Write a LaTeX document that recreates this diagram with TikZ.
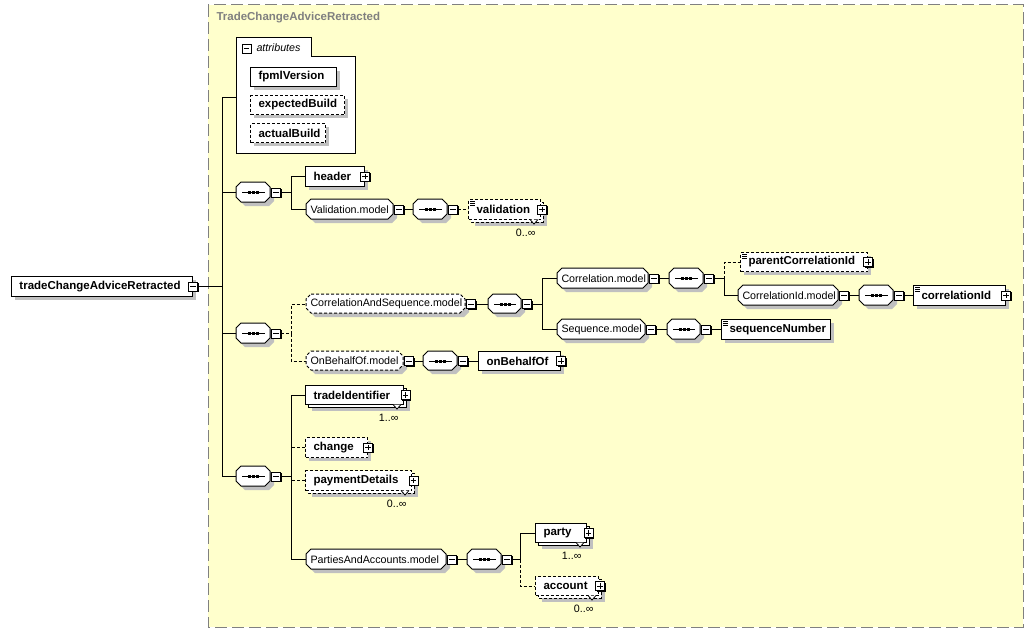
\documentclass[tikz,border=0pt]{standalone}
\usepackage{fontspec}
\setmainfont{Liberation Sans}
\usetikzlibrary{shadows}
\definecolor{bgy}{RGB}{255,255,204}
\definecolor{shc}{RGB}{192,192,192}
\definecolor{frg}{RGB}{128,128,128}
\tikzset{
  ebox/.style={draw, fill=white, inner sep=0pt, font=\fontsize{11.5}{13}\selectfont\bfseries, align=left},
  mtext/.style={inner sep=0pt, font=\fontsize{10.7}{12}\selectfont, align=left},
  opt/.style={dash pattern=on 3pt off 2pt},
  icon/.style={draw, solid, fill=white, minimum size=9pt, inner sep=0pt, line width=1pt,
    drop shadow={shadow xshift=1pt, shadow yshift=-1pt, fill=black, opacity=1}},
  minusic/.style={icon, path picture={\draw[line width=1pt,solid] ([xshift=1.8pt]path picture bounding box.west) -- ([xshift=-1.8pt]path picture bounding box.east);}},
  plusic/.style={icon, path picture={\draw[line width=1pt,solid] ([xshift=1.8pt]path picture bounding box.west) -- ([xshift=-1.8pt]path picture bounding box.east);
      \draw[line width=1pt,solid] ([yshift=-1.8pt]path picture bounding box.north) -- ([yshift=1.8pt]path picture bounding box.south);}},
  card/.style={inner sep=0pt, font=\fontsize{10.7}{12}\selectfont},
}
% octagon path
\newcommand\octfill[5]{\filldraw[#5] ({#1+5},#2) -- ({#3-5},#2) -- (#3,{#2+5}) -- (#3,{#4-5}) -- ({#3-5},#4) -- ({#1+5},#4) -- (#1,{#4-5}) -- (#1,{#2+5}) -- cycle;}
% element box: [style] name x1 y1 x2 y2 text
\newcommand\elem[7][]{%
  \fill[shc] ({#3+4},{#4+4}) rectangle ({#5+4},{#6+4});
  \pgfmathsetmacro\elW{#5-#3}\pgfmathsetmacro\elH{#6-#4}%
  \node[ebox,#1,minimum width=\elW pt,minimum height=\elH pt,text width=\elW pt,anchor=north west] (#2) at (#3,#4) {\hspace*{8pt}\mbox{#7}};
}
% multiple element box: [style] name x1 y1 x2 y2 text card
\newcommand\melem[8][]{%
  \fill[shc] ({#3+7},{#4+7}) rectangle ({#5+7},{#6+7});
  \filldraw[fill=white,#1] ({#3+3},{#4+3}) rectangle ({#5+3},{#6+3});
  \pgfmathsetmacro\elW{#5-#3}\pgfmathsetmacro\elH{#6-#4}%
  \node[ebox,#1,minimum width=\elW pt,minimum height=\elH pt,text width=\elW pt,anchor=north west] (#2) at (#3,#4) {\hspace*{8pt}\mbox{#7}};
  \filldraw[fill=white,solid,line width=0.8pt] ({#5-10},{#6+0.5}) -- ({#5-6},{#6+5}) -- ({#5-2},{#6+0.5});
  \node[card,anchor=east] (#2c) at ({#5-4},{#6+14}) {#8};
}
% model group: [style] name x1 y1 x2 y2 text
\newcommand\modl[7][]{%
  \octfill{#3+4}{#4+4}{#5+4}{#6+4}{fill=shc,draw=none}
  \octfill{#3}{#4}{#5}{#6}{fill=white,draw=black,#1}
  \pgfmathsetmacro\elW{#5-#3}\pgfmathsetmacro\elH{#6-#4}%
  \node[mtext,minimum width=\elW pt,minimum height=\elH pt,text width=\elW pt,anchor=north west] (#2) at (#3,#4) {\hspace*{4pt}\mbox{#7}};
  \node[minusic] (#2i) at ([xshift=5pt]#2.east) {};
}
% sequence compositor: name x1 y1 x2 y2
\newcommand\seqc[5]{%
  \octfill{#2+4}{#3+4}{#4+4}{#5+4}{fill=shc,draw=none}
  \octfill{#2}{#3}{#4}{#5}{fill=white,draw=black}
  \pgfmathsetmacro\elW{#4-#2}\pgfmathsetmacro\elH{#5-#3}%
  \node[inner sep=0pt,minimum width=\elW pt,minimum height=\elH pt,anchor=north west] (#1) at (#2,#3) {};
  \draw ([xshift=6pt]#1.west) -- ([xshift=-6pt]#1.east);
  \fill ([xshift=-5.5pt,yshift=-1.5pt]#1.center) rectangle ([xshift=-2.5pt,yshift=1.5pt]#1.center);
  \fill ([xshift=-1.5pt,yshift=-1.5pt]#1.center) rectangle ([xshift=1.5pt,yshift=1.5pt]#1.center);
  \fill ([xshift=2.5pt,yshift=-1.5pt]#1.center) rectangle ([xshift=5.5pt,yshift=1.5pt]#1.center);
  \node[minusic] (#1i) at ([xshift=5pt]#1.east) {};
}
\newcommand\docmark[1]{%
  \foreach \dy in {2.5,4.5,6.5} {\draw[line width=0.8pt] ([xshift=2pt,yshift=-\dy pt]#1.north west) -- ++(5,0);}
}
\begin{document}
\begin{tikzpicture}[x=1pt,y=-1pt,line width=1pt]
\useasboundingbox (0,0) rectangle (1033,634);
\fill[white] (0,0) rectangle (1033,634);
% outer frame
\draw[frg, fill=bgy, dash pattern=on 12pt off 5pt] (208,5) rectangle (1023,627);
\node[anchor=west, inner sep=0pt, text=frg, font=\fontsize{11.5}{13}\selectfont\bfseries] (title) at (216,18) {TradeChangeAdviceRetracted};

% root
\elem{root}{11}{276}{192}{296}{tradeChangeAdviceRetracted}
\node[minusic] (rooti) at (root.east) {};

% attributes
\filldraw[fill=white] (236,38) -- (311,38) -- (311,57) -- (355,57) -- (355,153) -- (236,153) -- cycle;
\node[inner sep=0pt, minimum width=119pt, minimum height=96pt, anchor=north west] (attr) at (236,57) {};
\node[minusic] (attri) at (246.5,49) {};
\node[anchor=west, inner sep=0pt, font=\fontsize{10.7}{12}\selectfont\itshape] (attrlbl) at (256,48) {attributes};
\elem{fpml}{250}{67}{336}{86}{fpmlVersion}
\elem[opt]{expb}{250}{95}{344}{114}{expectedBuild}
\elem[opt]{actb}{250}{123}{325}{142}{actualBuild}

% first sequence
\seqc{s1}{236}{182}{270}{202}
\elem{header}{305}{166}{364}{186}{header}
\node[plusic] (headeri) at (header.east) {};
\modl{valm}{306}{199}{393}{219}{Validation.model}
\seqc{s1b}{413}{199}{447}{219}
\melem[opt]{valid}{468}{199}{540}{219}{validation}{0..∞}
\docmark{valid}
\node[plusic] (validi) at ([xshift=1pt]valid.east) {};

% second sequence
\seqc{s2}{236}{323}{270}{343}
\modl[opt]{casm}{306}{294}{465}{313}{CorrelationAndSequence.model}
\seqc{s2b}{488}{294}{521}{313}
\modl{corrm}{557}{268}{648}{288}{Correlation.model}
\seqc{s2c}{669}{268}{703}{288}
\elem[opt]{parent}{740}{252}{867}{271}{parentCorrelationId}
\docmark{parent}
\node[plusic] (parenti) at (parent.east) {};
\modl{corridm}{738}{285}{838}{305}{CorrelationId.model}
\seqc{s2d}{859}{285}{893}{305}
\elem{corrid}{913}{285}{1005}{305}{correlationId}
\docmark{corrid}
\node[plusic] (corridi) at (corrid.east) {};
\modl{seqm}{557}{319}{645}{339}{Sequence.model}
\seqc{s2e}{667}{319}{700}{339}
\elem{seqnum}{721}{319}{830}{339}{sequenceNumber}
\docmark{seqnum}
\modl[opt]{obom}{306}{351}{403}{370}{OnBehalfOf.model}
\seqc{s2f}{423}{351}{457}{370}
\elem{obo}{478}{351}{560}{370}{onBehalfOf}
\node[plusic] (oboi) at (obo.east) {};

% third sequence
\seqc{s3}{236}{466}{270}{486}
\melem{tid}{305}{385}{403}{404}{tradeIdentifier}{1..∞}
\node[plusic] (tidi) at ([xshift=1.5pt]tid.east) {};
\elem[opt]{change}{305}{437}{367}{457}{change}
\node[plusic] (changei) at (change.east) {};
\melem[opt]{payd}{305}{470}{411}{490}{paymentDetails}{0..∞}
\node[plusic] (paydi) at ([xshift=1.5pt]payd.east) {};
\modl{pam}{306}{549}{446}{569}{PartiesAndAccounts.model}
\seqc{s3b}{467}{549}{501}{569}
\melem{party}{535}{523}{586}{542}{party}{1..∞}
\node[plusic] (partyi) at ([xshift=1.5pt]party.east) {};
\melem[opt]{acct}{535}{576}{598}{595}{account}{0..∞}
\node[plusic] (accti) at ([xshift=1pt]acct.east) {};

% ---- connectors ----
\path (rooti.east) ++(24,0) coordinate (trunk);
\draw (rooti.east) -- (trunk);
\draw (trunk) |- ([yshift=8pt]attr.west);
\draw (trunk) |- (s1.west);
\draw (trunk) |- (s2.west);
\draw (trunk) |- (s3.west);

\path (s1i.east) ++(10,0) coordinate (s1j);
\draw (s1i.east) -- (s1j);
\draw (s1j) |- (header.west);
\draw (s1j) |- (valm.west);
\draw (valmi.east) -- (s1b.west);
\draw[opt] (s1bi.east) -- (valid.west);

\path (s2i.east) ++(10,0) coordinate (s2j);
\draw[opt] (s2i.east) -- (s2j);
\draw[opt] (s2j) |- (casm.west);
\draw[opt] (s2j) |- (obom.west);
\draw (casmi.east) -- (s2b.west);
\path (s2bi.east) ++(10,0) coordinate (s2bj);
\draw (s2bi.east) -- (s2bj);
\draw (s2bj) |- (corrm.west);
\draw (s2bj) |- (seqm.west);
\draw (corrmi.east) -- (s2c.west);
\path (s2ci.east) ++(10,0) coordinate (s2cj);
\draw (s2ci.east) -- (s2cj);
\draw[opt] (s2cj) |- (parent.west);
\draw (s2cj) |- (corridm.west);
\draw (corridmi.east) -- (s2d.west);
\draw (s2di.east) -- (corrid.west);
\draw (seqmi.east) -- (s2e.west);
\draw (s2ei.east) -- (seqnum.west);
\draw (obomi.east) -- (s2f.west);
\draw (s2fi.east) -- (obo.west);

\path (s3i.east) ++(10,0) coordinate (s3j);
\draw (s3i.east) -- (s3j);
\draw[opt] (s3j) |- (change.west);
\draw[opt] (s3j) |- (payd.west);
\draw (s3j) |- (tid.west);
\draw (s3j) |- (pam.west);
\draw (pami.east) -- (s3b.west);
\path (s3bi.east) ++(8,0) coordinate (s3bj);
\draw (s3bi.east) -- (s3bj);
\draw[opt] (s3bj) |- (acct.west);
\draw (s3bj) |- (party.west);
\end{tikzpicture}
\end{document}
